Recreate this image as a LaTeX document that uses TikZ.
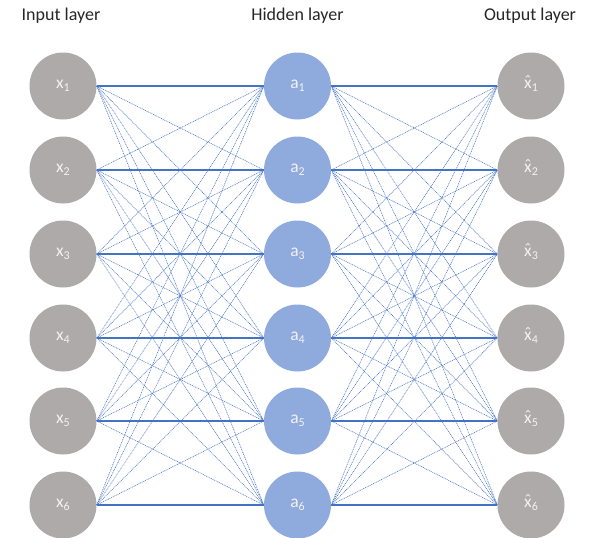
\documentclass[tikz,border=0pt]{standalone}
\usepackage{fontspec}
\setmainfont{Carlito}
\definecolor{ngray}{HTML}{AEAAAA}
\definecolor{nblue}{HTML}{8FAADC}
\definecolor{lblue}{HTML}{4472C4}
\definecolor{ntext}{HTML}{F2F2F2}
\newcommand{\sbs}[1]{\raisebox{-0.35ex}{\fontsize{12}{12}\selectfont #1}}
\newcommand{\xhat}{{\ooalign{x\cr\hidewidth\raisebox{0.15ex}{ˆ}\hidewidth\cr}}}
\begin{document}
\begin{tikzpicture}[x=1pt,y=-1pt,
  neuron/.style={circle,minimum size=67pt,inner sep=0pt,text=ntext,font=\fontsize{17.5}{17.5}\selectfont},
  inneuron/.style={neuron,fill=ngray},
  hidneuron/.style={neuron,fill=nblue},
  outneuron/.style={neuron,fill=ngray},
  title/.style={font=\fontsize{18}{18}\selectfont,text=black!85},
  strong/.style={draw=lblue,line width=1.4pt},
  weak/.style={draw=lblue,line width=0.55pt,dash pattern=on 1pt off 0.8pt}]
\useasboundingbox (0,0) rectangle (592,538);
\node[title] (tin) at (61,16) {Input layer};
\node[title] (thid) at (297.5,16) {Hidden layer};
\node[title] (tout) at (530,16) {Output layer};
\foreach \i/\y in {1/86,2/170,3/254,4/338,5/421,6/505}{
  \node[inneuron] (x\i) at (63,\y) {x\sbs{\i}};
  \node[hidneuron] (a\i) at (297.5,\y) {a\sbs{\i}};
  \node[outneuron] (y\i) at (531,\y) {\xhat\sbs{\i}};
}
\foreach \i in {1,...,6}{
  \foreach \j in {1,...,6}{
    \ifnum\i=\j\else
      \draw[weak] (x\i.east) -- (a\j.west);
      \draw[weak] (a\i.east) -- (y\j.west);
    \fi
  }
}
\foreach \i in {1,...,6}{
  \draw[strong] (x\i.east) -- (a\i.west);
  \draw[strong] (a\i.east) -- (y\i.west);
}
\end{tikzpicture}
\end{document}
